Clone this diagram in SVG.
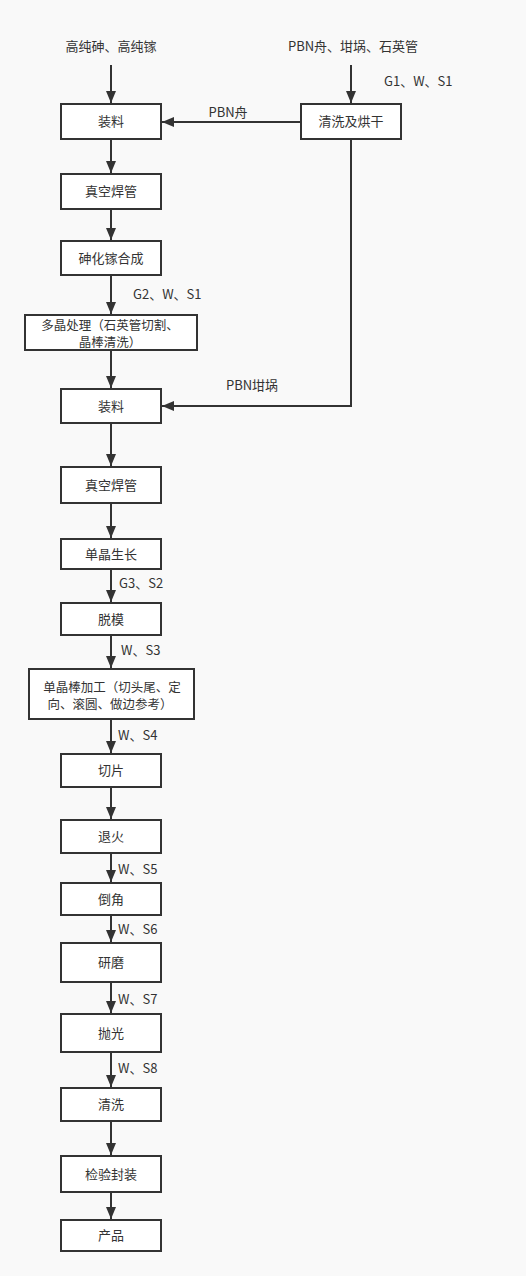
<svg xmlns="http://www.w3.org/2000/svg" width="526" height="1276" viewBox="0 0 526 1276">
<style>
.bg{fill:#f9f9f9}
.box rect{fill:#ffffff;stroke:#333333;stroke-width:2}
text{font-family:"Noto Sans CJK SC","Microsoft YaHei",sans-serif;font-size:13px;fill:#333333}
text.m{font-size:12.5px}
.c{text-anchor:middle}
.edge{fill:none;stroke:#333333;stroke-width:2;marker-end:url(#ah)}
</style>
<defs>
<marker id="ah" markerUnits="userSpaceOnUse" markerWidth="12" markerHeight="10" refX="12" refY="5" orient="auto">
<path d="M0,0 L12,5 L0,10 z" fill="#333333"/>
</marker>
</defs>
<rect class="bg" x="0" y="0" width="526" height="1276"/>

<g id="connectors">
<path class="edge" d="M111,65 V103"/>
<path class="edge" d="M351,65 V103"/>
<path class="edge" d="M301,122 H162"/>
<path class="edge" d="M111,140 V173"/>
<path class="edge" d="M111,210 V240"/>
<path class="edge" d="M111,276 V314"/>
<path class="edge" d="M111,351 V388"/>
<path class="edge" d="M351,140 V406 H162"/>
<path class="edge" d="M111,424 V466"/>
<path class="edge" d="M111,504 V538"/>
<path class="edge" d="M111,570 V602"/>
<path class="edge" d="M111,636 V668"/>
<path class="edge" d="M111,720 V753"/>
<path class="edge" d="M111,788 V819"/>
<path class="edge" d="M111,854 V882"/>
<path class="edge" d="M111,916 V942"/>
<path class="edge" d="M111,983 V1013"/>
<path class="edge" d="M111,1053 V1087"/>
<path class="edge" d="M111,1122 V1155"/>
<path class="edge" d="M111,1193 V1219"/>
</g>

<g id="labels">
<text class="c" x="111" y="51">高纯砷、高纯镓</text>
<text class="c" x="353" y="51">PBN舟、坩埚、石英管</text>
<text x="384" y="86">G1、W、S1</text>
<text class="c" x="228" y="117">PBN舟</text>
<text x="133" y="299">G2、W、S1</text>
<text class="c" x="252" y="390">PBN坩埚</text>
<text x="119" y="588">G3、S2</text>
<text x="121" y="655">W、S3</text>
<text x="118" y="740">W、S4</text>
<text x="118" y="874">W、S5</text>
<text x="118" y="934">W、S6</text>
<text x="118" y="1004">W、S7</text>
<text x="118" y="1073">W、S8</text>
</g>

<g id="n1" class="box"><rect x="61" y="104" width="100" height="35"/><text class="c" x="111" y="126">装料</text></g>
<g id="n2" class="box"><rect x="301" y="104" width="100" height="35"/><text class="c" x="351" y="126">清洗及烘干</text></g>
<g id="n3" class="box"><rect x="61" y="174" width="100" height="35"/><text class="c" x="111" y="196">真空焊管</text></g>
<g id="n4" class="box"><rect x="61" y="241" width="100" height="34"/><text class="c" x="111" y="263">砷化镓合成</text></g>
<g id="n5" class="box"><rect x="25" y="315" width="172" height="35"/><text class="c m" x="110" y="330">多晶处理（石英管切割、</text><text class="c m" x="110" y="346.5">晶棒清洗）</text></g>
<g id="n6" class="box"><rect x="61" y="389" width="100" height="34"/><text class="c" x="111" y="411">装料</text></g>
<g id="n7" class="box"><rect x="61" y="467" width="100" height="36"/><text class="c" x="111" y="490">真空焊管</text></g>
<g id="n8" class="box"><rect x="61" y="539" width="100" height="30"/><text class="c" x="111" y="559">单晶生长</text></g>
<g id="n9" class="box"><rect x="61" y="603" width="100" height="32"/><text class="c" x="111" y="624">脱模</text></g>
<g id="n10" class="box"><rect x="29" y="669" width="165" height="50"/><text class="c m" x="112" y="692">单晶棒加工（切头尾、定</text><text class="c m" x="110" y="708.5">向、滚圆、做边参考）</text></g>
<g id="n11" class="box"><rect x="61" y="754" width="100" height="33"/><text class="c" x="111" y="775">切片</text></g>
<g id="n12" class="box"><rect x="61" y="820" width="100" height="33"/><text class="c" x="111" y="841">退火</text></g>
<g id="n13" class="box"><rect x="61" y="883" width="100" height="32"/><text class="c" x="111" y="904">倒角</text></g>
<g id="n14" class="box"><rect x="61" y="943" width="100" height="39"/><text class="c" x="111" y="967">研磨</text></g>
<g id="n15" class="box"><rect x="61" y="1014" width="100" height="38"/><text class="c" x="111" y="1038">抛光</text></g>
<g id="n16" class="box"><rect x="61" y="1088" width="100" height="33"/><text class="c" x="111" y="1109">清洗</text></g>
<g id="n17" class="box"><rect x="61" y="1156" width="100" height="36"/><text class="c" x="111" y="1179">检验封装</text></g>
<g id="n18" class="box"><rect x="61" y="1220" width="100" height="31"/><text class="c" x="111" y="1240">产品</text></g>
</svg>
